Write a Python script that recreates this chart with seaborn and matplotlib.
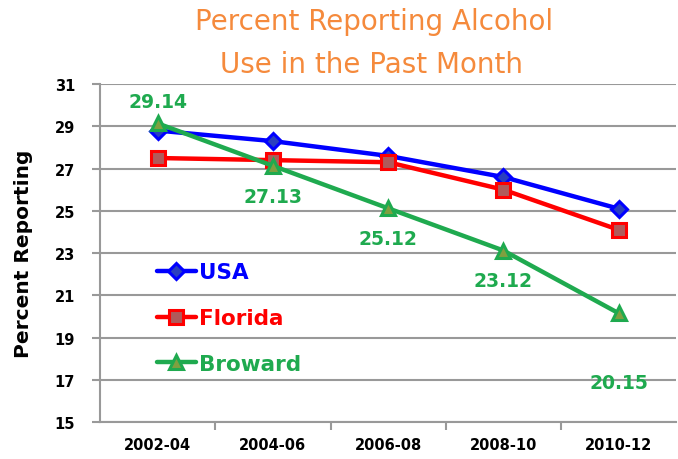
import matplotlib
matplotlib.use("Agg")
import matplotlib.pyplot as plt
import seaborn as sns
import pandas as pd
from matplotlib.ticker import FixedLocator

periods = ["2002-04", "2004-06", "2006-08", "2008-10", "2010-12"]
usa = [28.8, 28.3, 27.6, 26.6, 25.1]
florida = [27.5, 27.4, 27.3, 26.0, 24.1]
broward = [29.14, 27.13, 25.12, 23.12, 20.15]
broward_labels = ["29.14", "27.13", "25.12", "23.12", "20.15"]
y_ticks = [15, 17, 19, 21, 23, 25, 27, 29, 31]

sns.set_theme(style="white")
plt.rcParams['font.family'] = ['DejaVu Sans']

df = pd.DataFrame({
    "x": list(range(len(periods))) * 3,
    "value": usa + florida + broward,
    "series": ["USA"] * 5 + ["Florida"] * 5 + ["Broward"] * 5,
})

fig = plt.figure(figsize=(6.78, 4.6), dpi=100)
ax = fig.add_axes([0.1475, 0.0804, 0.85, 0.7346])

styles = {
    "USA": dict(color="#0000FF", marker="D", mfc="#2A3FC0", ms=8),
    "Florida": dict(color="#FF0000", marker="s", mfc="#B05A5A", ms=10),
    "Broward": dict(color="#1FAA4F", marker="^", mfc="#7FA040", ms=10),
}
for name in ["USA", "Florida", "Broward"]:
    st = styles[name]
    sub = df[df.series == name]
    sns.lineplot(data=sub, x="x", y="value", ax=ax, color=st["color"], lw=3.2,
                 marker=st["marker"], markersize=st["ms"], markerfacecolor=st["mfc"],
                 markeredgecolor=st["color"], markeredgewidth=2.2, label=name)

offsets = [(0, 9), (0, -15), (0, -15), (0, -15), (0, -43)]
for i, (v, lab) in enumerate(zip(broward, broward_labels)):
    ax.annotate(lab, (i, v), xytext=offsets[i], textcoords="offset points",
                ha="center", va="bottom" if offsets[i][1] > 0 else "top",
                color="#1FAA4F", fontsize=13.5, fontweight="bold")

ax.set_xlim(-0.5, 4.5)
ax.set_ylim(15, 31)
ax.set_yticks(y_ticks)
ax.set_yticklabels([str(t) for t in y_ticks], fontsize=10.5, fontweight="bold", color="black")
ax.set_xticks(range(len(periods)))
ax.set_xticklabels(periods, fontsize=10.5, fontweight="bold", color="black")
ax.xaxis.set_minor_locator(FixedLocator([0.5, 1.5, 2.5, 3.5]))
ax.tick_params(axis="x", which="major", length=0, pad=11)
ax.tick_params(axis="x", which="minor", length=6, color="#999999", width=1.5, bottom=True)
ax.tick_params(axis="y", which="major", length=6, color="#999999", width=1.5, left=True, pad=12)
ax.yaxis.grid(True, color="#999999", lw=1.5)
ax.set_axisbelow(True)
for s in ["top", "right"]:
    ax.spines[s].set_visible(False)
for s in ["left", "bottom"]:
    ax.spines[s].set_color("#999999")
    ax.spines[s].set_linewidth(1.5)
ax.set_xlabel("")
ax.set_ylabel("Percent Reporting", fontsize=14.5, fontweight="bold", color="black")
ax.yaxis.set_label_coords(-0.117, 0.5)

leg = ax.legend(loc="upper left", bbox_to_anchor=(0.065, 0.53), frameon=False,
                labelspacing=1.2, handlelength=1.8, handletextpad=0.15,
                prop={"weight": "bold", "size": 15.5})
for txt, name in zip(leg.get_texts(), ["USA", "Florida", "Broward"]):
    txt.set_color(styles[name]["color"])

fig.text(0.552, 0.952, "Percent Reporting Alcohol", ha="center", va="center",
         color="#F58A3C", fontsize=20)
fig.text(0.548, 0.859, "Use in the Past Month", ha="center", va="center",
         color="#F58A3C", fontsize=20)

fig.savefig("out.png", dpi=100)
